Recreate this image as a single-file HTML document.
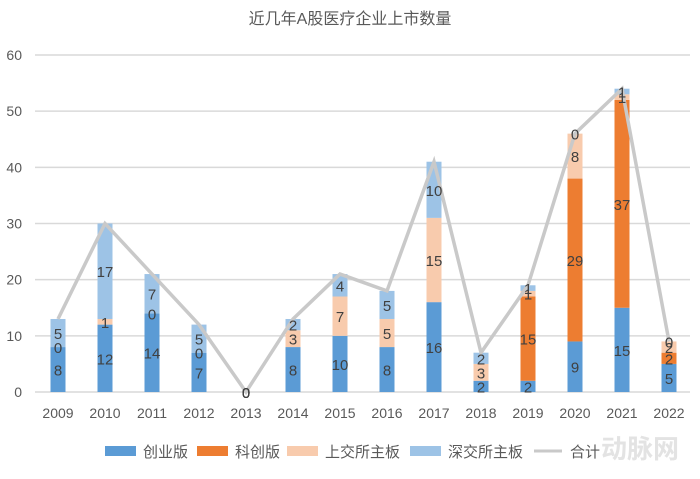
<!DOCTYPE html>
<html><head><meta charset="utf-8"><style>
body{margin:0;background:#fff;font-family:"Liberation Sans","Noto Sans CJK SC",sans-serif;}
svg text{font-family:"Liberation Sans","Noto Sans CJK SC",sans-serif;}
</style></head><body>
<svg id="c" width="700" height="474">
<text x="350" y="24" text-anchor="middle" font-size="16" fill="#595959">近几年A股医疗企业上市数量</text>
<g id="grid"></g><g id="bars"></g><g id="line"></g><g id="labels"></g><g id="axis"></g>
<g id="legend"></g>
<text x="640" y="458" text-anchor="middle" font-size="26" fill="#e3e3e3" font-weight="bold">动脉网</text>
</svg>
<script>
const years=["2009","2010","2011","2012","2013","2014","2015","2016","2017","2018","2019","2020","2021","2022"];
const chuangye=[8,12,14,7,0,8,10,8,16,2,2,9,15,5];
const kechuang=[0,0,0,0,0,0,0,0,0,0,15,29,37,2];
const shangjiao=[0,1,0,0,0,3,7,5,15,3,1,8,1,2];
const shenjiao=[5,17,7,5,0,2,4,5,10,2,1,0,1,0];
const yTicks=[0,10,20,30,40,50,60];
const seriesNames=["创业版","科创版","上交所主板","深交所主板","合计"];
const colors=["#5b9bd5","#ed7d31","#f8cbad","#9dc3e6","#c9c9c9"];
const NS="http://www.w3.org/2000/svg";
function y(v){return 392-v*(337/60);}
function x(i){return 58+i*47;}
function mk(tag,attrs,parent,txt){const e=document.createElementNS(NS,tag);for(const k in attrs)e.setAttribute(k,attrs[k]);if(txt!==undefined)e.textContent=txt;document.getElementById(parent).appendChild(e);return e;}
yTicks.forEach(t=>{
 const l=mk('line',{x1:35,x2:690,y1:y(t),y2:y(t),stroke:'#d9d9d9','stroke-width':1.5},'grid');
 
 
 const tx=mk('text',{x:22,y:y(t)+5,'text-anchor':'end','font-size':14,fill:'#595959'},'axis',String(t));
 
 
});
const series=[chuangye,kechuang,shangjiao,shenjiao];
const totals=years.map((_,i)=>series.reduce((s,a)=>s+a[i],0));
years.forEach((yr,i)=>{
 let base=0;
 series.forEach((arr,s)=>{
  const v=arr[i];
  const r=mk('rect',{x:x(i)-7.5,y:y(base+v),width:15,height:y(base)-y(base+v),fill:colors[s]},'bars');
  
  
  if(!(s===1&&v===0)){
   const t=mk('text',{x:x(i),y:y(base+v/2)+6,'text-anchor':'middle','font-size':15,fill:'#404040'},'labels',String(v));
   
   
  }
  base+=v;
 });
 const tx=mk('text',{x:x(i),y:418,'text-anchor':'middle','font-size':14,fill:'#595959'},'axis',yr);
 
 
});
const pl=mk('polyline',{points:totals.map((v,i)=>x(i)+','+y(v)).join(' '),fill:'none',stroke:colors[4],'stroke-width':3.5},'line');


const lx=[105,197,287,410,534];
seriesNames.forEach((n,k)=>{
 if(k<4){const r=mk('rect',{x:lx[k],y:446,width:31,height:10,fill:colors[k]},'legend');
  
  }
 else{const l=mk('line',{x1:lx[k],x2:lx[k]+28,y1:451,y2:451,stroke:colors[4],'stroke-width':3},'legend');
  
  }
 const t=mk('text',{x:lx[k]+(k<4?38:36),y:457,'font-size':15,fill:'#595959'},'legend',n);
 
 
});
</script>
</body></html>
